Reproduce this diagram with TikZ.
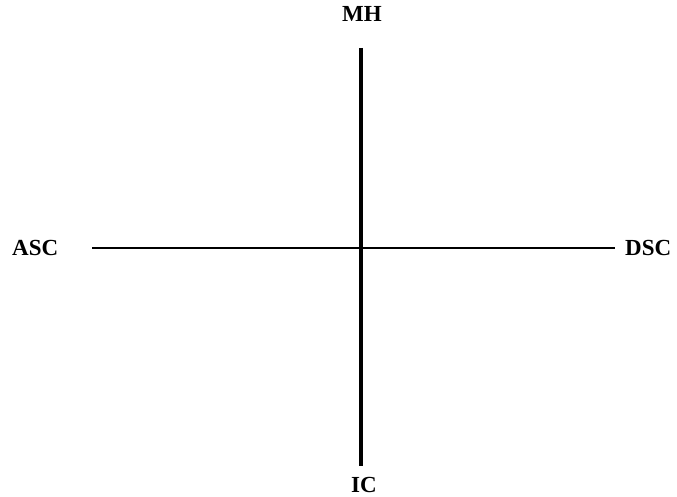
\documentclass[tikz,border=0pt]{standalone}
\usepackage{fontspec}
\setmainfont{Liberation Serif}
\usetikzlibrary{positioning}

\begin{document}
\begin{tikzpicture}[
    x=1pt, y=1pt,
    label/.style={inner sep=0pt, font=\fontsize{23}{28}\selectfont\bfseries},
    axis/.style={draw=black, line width=3.2pt}
]
\useasboundingbox (0,0) rectangle (677,497);

\node[label, anchor=south] (MH) at (362,475) {MH};
\node[label, anchor=north] (IC) at (364,20) {IC};
\node[label, anchor=west] (ASC) at (12,249) {ASC};
\node[label, anchor=west] (DSC) at (625,249) {DSC};

\draw[axis, line width=2.8pt, shorten <=34pt, shorten >=10pt] (ASC.east) -- (DSC.west);
\draw[axis, shorten <=26pt, shorten >=11pt] (MH.south -| 361,0) -- (IC.north -| 361,0);

\end{tikzpicture}
\end{document}
